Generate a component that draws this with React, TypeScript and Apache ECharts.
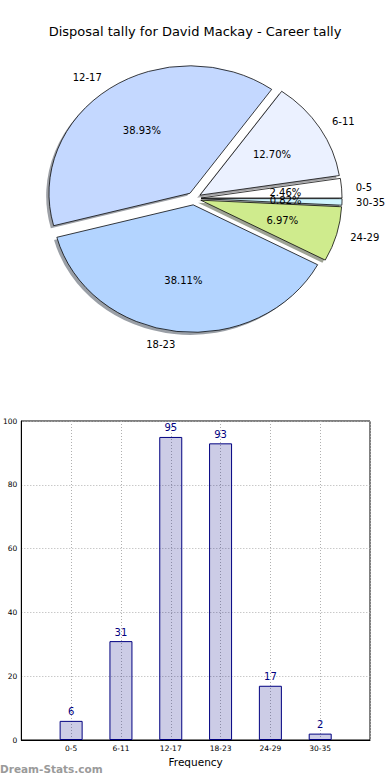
import React, { useEffect, useRef } from "react";
import * as echarts from "echarts";

const categories = ["0-5", "6-11", "12-17", "18-23", "24-29", "30-35"];
const frequency = [6, 31, 95, 93, 17, 2];
const sliceColors = ["#FFFFFF", "#EBF1FF", "#C4D8FF", "#B3D4FF", "#CFEB8D", "#CFF4FF"];
const yTicks = [0, 20, 40, 60, 80, 100];

const TITLE = "Disposal tally for David Mackay - Career tally";
const FONT = "DejaVu Sans";

// pie geometry (pixels)
const CX = 194;
const CY = 198.5;
const RX = 141;
const RY = 127.5;
const EXPLODE = 0.05;

function hexToRgb(h: string) {
  const n = parseInt(h.slice(1), 16);
  return [(n >> 16) & 255, (n >> 8) & 255, n & 255];
}

function sliceAngles(i: number) {
  const total = frequency.reduce((a, b) => a + b, 0);
  let cum = 0;
  for (let k = 0; k < i; k++) cum += frequency[k];
  const t1 = (cum / total) * 360;
  const t2 = ((cum + frequency[i]) / total) * 360;
  return { t1, t2, tm: (t1 + t2) / 2, total };
}

export default function App() {
  const ref = useRef<HTMLDivElement>(null);
  useEffect(() => {
    document.body.style.margin = "0";
    if (!ref.current) return;
    const chart = echarts.init(ref.current, null, { renderer: "svg" });

    const sectorEl = (i: number, shadow: boolean) => {
      const { t1, t2, tm } = sliceAngles(i);
      const rm = (tm * Math.PI) / 180;
      let x = CX + EXPLODE * RX * Math.cos(rm);
      let y = CY - EXPLODE * RY * Math.sin(rm);
      let fill = sliceColors[i];
      if (shadow) {
        x += -2.8;
        y += 2.6;
        const [r, g, b] = hexToRgb(sliceColors[i]);
        fill = `rgba(${Math.round(r * 0.3)},${Math.round(g * 0.3)},${Math.round(b * 0.3)},0.5)`;
      }
      return {
        type: "sector",
        x,
        y,
        scaleX: 1,
        scaleY: RY / RX,
        shape: {
          cx: 0,
          cy: 0,
          r0: 0,
          r: RX,
          startAngle: (-t2 * Math.PI) / 180,
          endAngle: (-t1 * Math.PI) / 180,
          clockwise: true,
        },
        style: shadow
          ? { fill, stroke: "none" }
          : { fill, stroke: "#000000", lineWidth: 0.8, strokeNoScale: true },
      };
    };

    const option: any = {
      animation: false,
      title: {
        text: TITLE,
        left: "center",
        top: 20,
        textStyle: { fontFamily: FONT, fontSize: 13, fontWeight: "normal", color: "#000" },
      },
      grid: {
        left: 19,
        right: 20,
        top: 421,
        height: 319,
        show: true,
        borderColor: "#000",
        borderWidth: 1,
        backgroundColor: "transparent",
      },
      xAxis: {
        type: "value",
        min: -1,
        max: 6,
        interval: 1,
        name: "Frequency",
        nameLocation: "middle",
        nameGap: 16,
        nameTextStyle: { fontFamily: FONT, fontSize: 10.5, color: "#000" },
        axisLine: { show: true, onZero: false, lineStyle: { color: "#000", width: 1 } },
        axisTick: { show: false },
        axisLabel: {
          fontFamily: FONT,
          fontSize: 7.5,
          color: "#000",
          margin: 4,
          formatter: (v: number) => (categories[v] !== undefined ? categories[v] : ""),
        },
        splitLine: { show: true, lineStyle: { color: "#b0b0b0", type: [1, 2], width: 1 } },
      },
      yAxis: {
        type: "value",
        min: 0,
        max: 100,
        interval: 20,
        axisLine: { show: true, onZero: false, lineStyle: { color: "#000", width: 1 } },
        axisTick: { show: false },
        axisLabel: {
          fontFamily: FONT,
          fontSize: 7.5,
          color: "#000",
          margin: 4,
          formatter: (v: number) => (yTicks.includes(v) ? String(v) : ""),
        },
        splitLine: { show: true, lineStyle: { color: "#b0b0b0", type: [1, 2], width: 1 } },
      },
      series: [
        {
          type: "custom",
          coordinateSystem: "none",
          z: 1,
          data: frequency,
          renderItem: (params: any) => sectorEl(params.dataIndex, true),
        },
        {
          type: "custom",
          coordinateSystem: "none",
          z: 2,
          data: frequency,
          renderItem: (params: any) => {
            const i = params.dataIndex;
            const { tm, total } = sliceAngles(i);
            const rm = (tm * Math.PI) / 180;
            const c = Math.cos(rm);
            const s = Math.sin(rm);
            const lx = CX + (EXPLODE + 1.1) * RX * c;
            const ly = CY - (EXPLODE + 1.1) * RY * s;
            const px = CX + (EXPLODE + 0.6) * RX * c;
            const py = CY - (EXPLODE + 0.6) * RY * s;
            return {
              type: "group",
              children: [
                sectorEl(i, false),
                {
                  type: "text",
                  x: lx,
                  y: ly,
                  z2: 10,
                  style: {
                    text: categories[i],
                    fill: "#000",
                    fontFamily: FONT,
                    fontSize: 10,
                    align: c >= 0 ? "left" : "right",
                    verticalAlign: "middle",
                  },
                },
                {
                  type: "text",
                  x: px,
                  y: py,
                  z2: 10,
                  style: {
                    text: ((frequency[i] / total) * 100).toFixed(2) + "%",
                    fill: "#000",
                    fontFamily: FONT,
                    fontSize: 10,
                    align: "center",
                    verticalAlign: "middle",
                  },
                },
              ],
            };
          },
        },
        {
          type: "bar",
          data: frequency.map((v, i) => [i, v]),
          barWidth: 23,
          itemStyle: { color: "rgba(0,0,128,0.2)", borderColor: "#000080", borderWidth: 1 },
          label: {
            show: true,
            position: "top",
            distance: 4,
            color: "#000080",
            fontFamily: FONT,
            fontSize: 10,
            formatter: (p: any) => String(p.value[1]),
          },
        },
      ],
      graphic: [
        {
          type: "text",
          left: 0,
          top: 763,
          style: {
            text: "Dream-Stats.com",
            fill: "#9a9a9a",
            fontFamily: FONT,
            fontSize: 10.5,
            fontWeight: "bold",
          },
        },
      ],
    };
    chart.setOption(option);
    return () => chart.dispose();
  }, []);
  return <div ref={ref} style={{ width: 390, height: 780 }} />;
}
